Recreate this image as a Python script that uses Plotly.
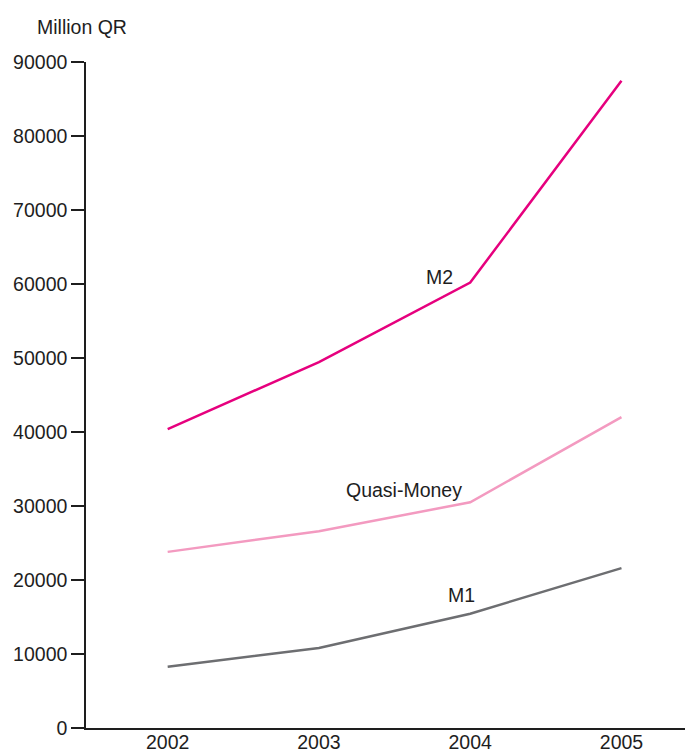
import plotly.graph_objects as go

# Monetary aggregates, end of year (Million QR)
years = ["2002", "2003", "2004", "2005"]
m2 = [40400, 49450, 60200, 87450]
quasi_money = [23800, 26600, 30500, 42000]
m1 = [8280, 10800, 15450, 21600]

y_ticks = [0, 10000, 20000, 30000, 40000, 50000, 60000, 70000, 80000, 90000]

FONT = "Liberation Sans, Arial, Helvetica, sans-serif"
TEXT = "#1E1E1E"
SIZE = 19.5

series = [
    ("M2", m2, "#E6007E"),
    ("Quasi-Money", quasi_money, "#F39AC0"),
    ("M1", m1, "#6D6E71"),
]

fig = go.Figure()
for name, vals, color in series:
    fig.add_trace(go.Scatter(
        x=years, y=vals, name=name, mode="lines",
        line=dict(color=color, width=2.5),
        hoverinfo="x+y+name",
    ))

# Series labels placed beside their lines
labels = [
    ("M2", 1.80, 60950),
    ("Quasi-Money", 1.56, 32200),
    ("M1", 1.94, 18000),
]
for text, x, y in labels:
    fig.add_annotation(
        x=x, y=y, xref="x", yref="y", text=text, showarrow=False,
        font=dict(family=FONT, size=SIZE, color=TEXT),
        xanchor="center", yanchor="middle",
    )

# Unit label above the value axis
fig.add_annotation(
    x=-51 / 599, y=(728 - 27) / 666, xref="paper", yref="paper",
    text="Million QR", showarrow=False, xanchor="left", yanchor="middle",
    font=dict(family=FONT, size=SIZE, color=TEXT),
)

fig.update_layout(
    width=685, height=753,
    margin=dict(l=86, r=0, t=62, b=25, autoexpand=False),
    paper_bgcolor="white", plot_bgcolor="white",
    showlegend=False,
    font=dict(family=FONT, size=SIZE, color=TEXT),
)
fig.update_xaxes(
    type="category", range=[-0.54, 3.42],
    showgrid=False, zeroline=False,
    showline=True, linecolor=TEXT, linewidth=1.5,
    ticks="", automargin=False, ticklabelstandoff=-4,
    tickfont=dict(family=FONT, size=SIZE, color=TEXT),
)
fig.update_yaxes(
    range=[0, 90000], tickvals=y_ticks, ticktext=[str(v) for v in y_ticks],
    showgrid=False, zeroline=False,
    showline=True, linecolor=TEXT, linewidth=1.5,
    ticks="outside", ticklen=13, tickwidth=1.5, tickcolor=TEXT,
    automargin=False,
    tickfont=dict(family=FONT, size=SIZE, color=TEXT),
)

fig.write_html("out.html")
